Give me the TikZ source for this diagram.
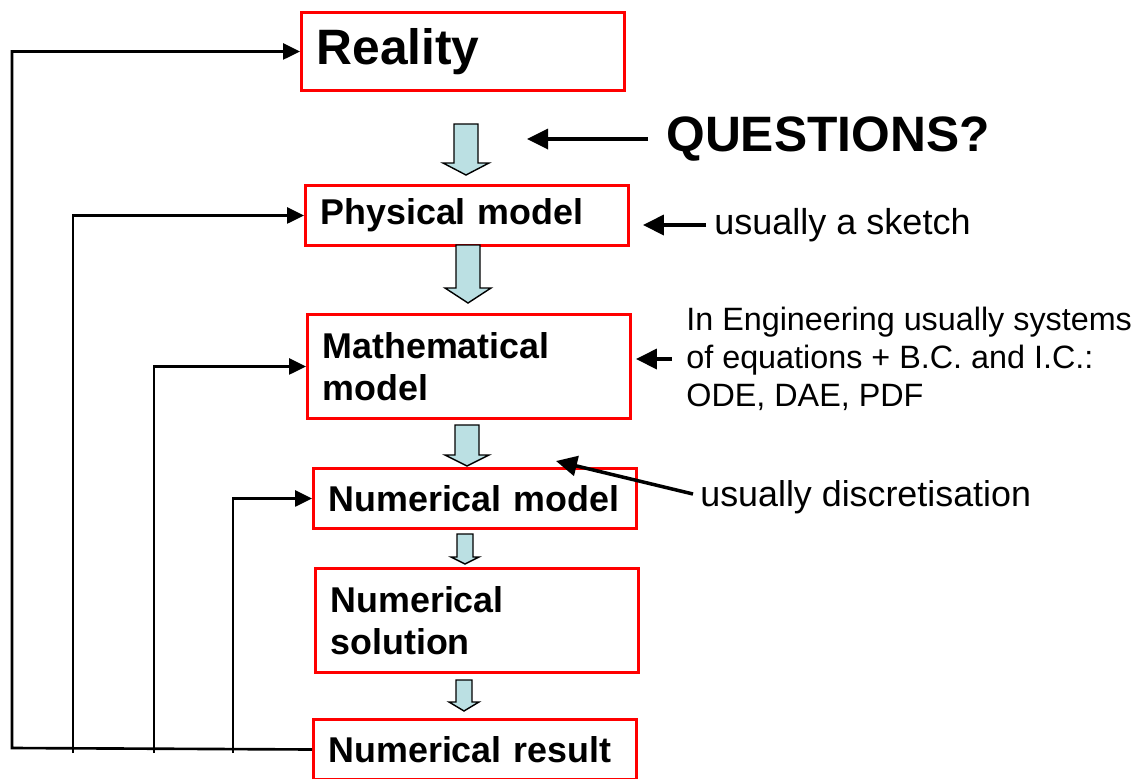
\documentclass[tikz,border=0pt]{standalone}
\usepackage{fontspec}
\setmainfont{Liberation Sans}
\usetikzlibrary{arrows.meta}
\definecolor{paleblue}{RGB}{187,224,227}
\tikzset{
	stage/.style={draw=red, line width=1.7pt, anchor=north west, inner xsep=0.3cm, inner ysep=0pt,
		text width=5.86cm, align=left, font=\fontsize{20.4}{23.8}\selectfont\bfseries},
	feedback/.style={line width=1.5pt},
	back/.style={feedback, -{Triangle[length=0.34cm,width=0.32cm]}},
	note/.style={line width=2pt, -{Triangle[length=0.42cm,width=0.4cm]}},
	remark/.style={anchor=west, inner sep=0pt, align=left},
	fat/.style={draw=black, fill=paleblue, line width=0.8pt, line join=miter},
}
% centre x, top, head base, tip, half shaft, half head
\newcommand{\fatarrow}[6]{%
	\draw[fat] (#1-#5,#2) -- (#1+#5,#2) -- (#1+#5,#3) -- (#1+#6,#3) -- (#1,#4)
		-- (#1-#6,#3) -- (#1-#5,#3) -- cycle;}
\begin{document}
\begin{tikzpicture}[x=0.02cm, y=-0.02cm]
		\useasboundingbox (0,0) rectangle (1139,778);
		
		%BLOCCHI
		\node[stage, minimum height=1.56cm, font=\fontsize{28.3}{32}\selectfont\bfseries] (reality) at (300,11) {Reality};
		\node[stage, minimum height=1.2cm] (physical) at (304,184) {Physical model};
		\node[stage, minimum height=2.08cm] (math) at (306,313) {Mathematical\\model};
		\node[stage, minimum height=1.2cm] (nummodel) at (312,467) {Numerical model};
		\node[stage, minimum height=2.08cm] (numsol) at (314,567) {Numerical\\solution};
		\node[stage, minimum height=1.2cm] (result) at (312,718) {Numerical result};
		
		%FRECCE
		\fatarrow{466}{124}{163}{175}{12}{23}
		\fatarrow{468}{245}{288}{303}{12}{23}
		\fatarrow{467}{425}{455}{466}{12}{22}
		\fatarrow{465}{534}{557}{564}{8}{14}
		\fatarrow{464}{680}{702}{711}{8}{15}
		
		%NOTE
		\node[remark, font=\fontsize{28.3}{32}\selectfont\bfseries] (questions) at (666,139) {QUESTIONS?};
		\node[remark, font=\fontsize{20.5}{24}\selectfont] (sketch) at (714,225) {usually a sketch};
		\node[remark, font=\fontsize{18.4}{21.6}\selectfont] (engineering) at (686,359)
			{In Engineering usually systems\\of equations + B.C. and I.C.:\\ODE, DAE, PDF};
		\node[remark, font=\fontsize{20.4}{24}\selectfont] (discr) at (700,497) {usually discretisation};
		\coordinate (qtip) at (527,137);
		\coordinate (dtip) at (556,461);
		\draw[note] ([xshift=-0.36cm]questions.west) -- (qtip |- questions.west);
		\draw[note, shorten <=0.16cm, shorten >=0.26cm] (sketch.west) -- (physical.east |- sketch.west);
		\draw[note, shorten <=0.28cm, shorten >=0.08cm] (engineering.west) -- (math.east |- engineering.west);
		\draw[note] ([xshift=-0.14cm, yshift=0.06cm]discr.west) -- (dtip);
		
		%RETROAZIONE
		\coordinate (f0) at (12,748);
		\coordinate (f1) at (73,753);
		\coordinate (f2) at (154,753);
		\coordinate (f3) at (233,753);
		\draw[back] (result.west) -- (f0) |- (reality.west);
		\draw[back] (f1) |- (physical.west);
		\draw[back] (f2) |- (math.west);
		\draw[back] (f3) |- (nummodel.west);
	\end{tikzpicture}
\end{document}
